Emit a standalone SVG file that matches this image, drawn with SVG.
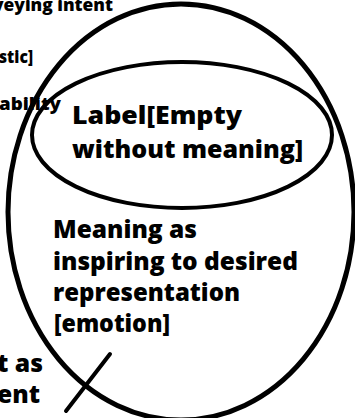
<svg xmlns="http://www.w3.org/2000/svg" width="355" height="418" viewBox="0 0 355 418">
<style>
  .shape { fill: none; stroke: #000; }
  .big { font-family: "Open Sans", "Liberation Sans", sans-serif; font-weight: 800; font-size: 24px; fill: #000; }
  .small { font-family: "Open Sans", "Liberation Sans", sans-serif; font-weight: 800; font-size: 17px; fill: #000; }
</style>
<rect width="355" height="418" fill="#fff"/>
<g id="side-texts">
  <text class="small" x="-7" y="11" textLength="120" lengthAdjust="spacingAndGlyphs">veying intent</text>
  <text class="small" x="-1" y="63" textLength="34" lengthAdjust="spacingAndGlyphs">stic]</text>
  <text class="small" x="-1" y="110" textLength="62" lengthAdjust="spacingAndGlyphs">ability</text>
  <text class="big" x="-3" y="372" textLength="46" lengthAdjust="spacingAndGlyphs">t as</text>
  <text class="big" x="-3" y="403" textLength="43" lengthAdjust="spacingAndGlyphs">ent</text>
</g>
<g id="connectors">
  <line class="shape" x1="66" y1="411" x2="110" y2="354" stroke-width="4" stroke-linecap="round"/>
</g>
<g id="node-meaning">
  <ellipse class="shape" cx="181" cy="212" rx="173" ry="208" stroke-width="5"/>
  <text class="big" x="53" y="238" textLength="144" lengthAdjust="spacingAndGlyphs">Meaning as</text>
  <text class="big" x="53" y="270" textLength="245" lengthAdjust="spacingAndGlyphs">inspiring to desired</text>
  <text class="big" x="53" y="301" textLength="187" lengthAdjust="spacingAndGlyphs">representation</text>
  <text class="big" x="54" y="332" textLength="116" lengthAdjust="spacingAndGlyphs">[emotion]</text>
</g>
<g id="node-label">
  <ellipse class="shape" cx="182" cy="135" rx="150" ry="73" stroke-width="4"/>
  <text class="big" x="72" y="124" textLength="170" lengthAdjust="spacingAndGlyphs">Label[Empty</text>
  <text class="big" x="72" y="158" textLength="231" lengthAdjust="spacingAndGlyphs">without meaning]</text>
</g>
</svg>
